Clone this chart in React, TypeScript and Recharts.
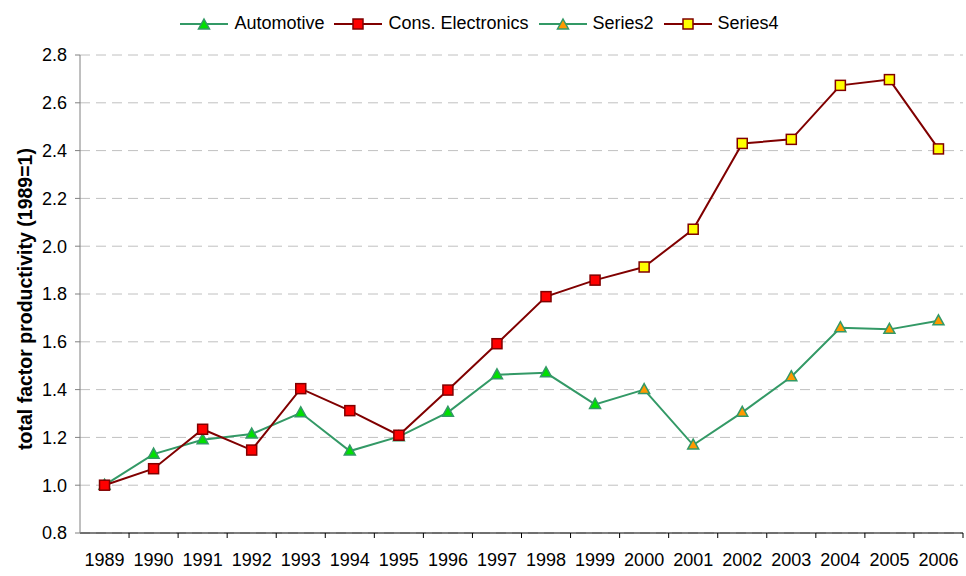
import React from 'react';
import { LineChart, Line, XAxis, YAxis, CartesianGrid, Legend } from 'recharts';

const years = ['1989', '1990', '1991', '1992', '1993', '1994', '1995', '1996', '1997', '1998', '1999', '2000', '2001', '2002', '2003', '2004', '2005', '2006'];
const automotive = [1.0, 1.13, 1.19, 1.214, 1.303, 1.143, 1.203, 1.305, 1.462, 1.47, 1.338, 1.4, 1.168, 1.305, 1.454, 1.659, 1.652, 1.688];
const consElectronics = [1.0, 1.069, 1.234, 1.147, 1.404, 1.312, 1.209, 1.398, 1.592, 1.789, 1.858, 1.913, 2.071, 2.43, 2.447, 2.673, 2.697, 2.407];
// from this year on the markers switch to the "Series2" / "Series4" style
const splitYear = '2000';
const yTicks = [0.8, 1.0, 1.2, 1.4, 1.6, 1.8, 2.0, 2.2, 2.4, 2.6, 2.8];

const GREEN = '#339966';
const DARK_RED = '#800000';
const FONT = '"Liberation Sans", Arial, sans-serif';

const WIDTH = 966;
const HEIGHT = 576;
const MARGIN = { top: 15, right: 3, bottom: 13, left: 0 };
const Y_AXIS_W = 80;
const BAND = (WIDTH - Y_AXIS_W - MARGIN.left - MARGIN.right) / years.length;

const splitIdx = years.indexOf(splitYear);

const data = years.map((year, i) => ({
  year,
  auto: i <= splitIdx ? automotive[i] : null,
  s2: i >= splitIdx ? automotive[i] : null,
  cons: i <= splitIdx ? consElectronics[i] : null,
  s4: i >= splitIdx ? consElectronics[i] : null,
}));

const Triangle = ({ cx, cy, fill }: { cx: number; cy: number; fill: string }) => (
  <polygon
    points={`${cx},${cy - 6} ${cx + 5.5},${cy + 4} ${cx - 5.5},${cy + 4}`}
    fill={fill}
    stroke={GREEN}
    strokeWidth={1.5}
  />
);

const Square = ({ cx, cy, fill }: { cx: number; cy: number; fill: string }) => (
  <rect x={cx - 5} y={cy - 5} width={10} height={10} fill={fill} stroke={DARK_RED} strokeWidth={1.5} />
);

const makeDot = (shape: 'tri' | 'sq', fill: string, hideIdx: number) => (props: any) => {
  const { cx, cy, index } = props;
  if (index === hideIdx || cx == null || cy == null || props.value == null) return <g key={`d-${index}`} />;
  return shape === 'tri' ? (
    <Triangle key={`d-${index}`} cx={cx} cy={cy} fill={fill} />
  ) : (
    <Square key={`d-${index}`} cx={cx} cy={cy} fill={fill} />
  );
};

const legendItems = [
  { name: 'Automotive', shape: 'tri', fill: '#00E000', color: GREEN },
  { name: 'Cons. Electronics', shape: 'sq', fill: '#FF0000', color: DARK_RED },
  { name: 'Series2', shape: 'tri', fill: '#FF9900', color: GREEN },
  { name: 'Series4', shape: 'sq', fill: '#FFFF00', color: DARK_RED },
];

const renderLegend = () => (
  <div
    style={{
      display: 'flex',
      justifyContent: 'center',
      alignItems: 'center',
      fontFamily: FONT,
      fontSize: 18,
      color: '#000',
      paddingRight: 4,
      marginTop: -2,
    }}
  >
    {legendItems.map((it, i) => (
      <div
        key={it.name}
        style={{ display: 'flex', alignItems: 'center', marginRight: i < legendItems.length - 1 ? 10 : 0 }}
      >
        <svg width={48} height={16} style={{ marginRight: 6 }}>
          <line x1={0} y1={8} x2={48} y2={8} stroke={it.color} strokeWidth={2} />
          {it.shape === 'tri' ? <Triangle cx={24} cy={9} fill={it.fill} /> : <Square cx={24} cy={8} fill={it.fill} />}
        </svg>
        <span>{it.name}</span>
      </div>
    ))}
  </div>
);

const XTick = (props: any) => {
  const { x, y, payload } = props;
  return (
    <g>
      <line x1={x + BAND / 2} y1={y} x2={x + BAND / 2} y2={y + 5} stroke="#000" strokeWidth={1} />
      <text x={x} y={y + 33} textAnchor="middle" fontFamily={FONT} fontSize={18} fill="#000">
        {payload.value}
      </text>
    </g>
  );
};

const YLabel = () => (
  <text
    x={25}
    y={299}
    transform="rotate(-90 25 299)"
    textAnchor="middle"
    dominantBaseline="central"
    fontFamily={FONT}
    fontSize={19.5}
    fontWeight="bold"
    fill="#000"
  >
    total factor productivity (1989=1)
  </text>
);

export default function App() {
  return (
    <div style={{ position: 'absolute', left: 0, top: 0, width: WIDTH, height: HEIGHT, background: '#fff' }}>
      <LineChart width={WIDTH} height={HEIGHT} data={data} margin={MARGIN}>
        <CartesianGrid vertical={false} stroke="#c0c0c0" strokeDasharray="10 6" />
        <XAxis
          dataKey="year"
          interval={0}
          height={30}
          padding={{ left: BAND / 2, right: BAND / 2 }}
          tickSize={0}
          tickMargin={0}
          tickLine={false}
          tick={<XTick />}
          axisLine={{ stroke: '#000', strokeWidth: 1 }}
        />
        <YAxis
          width={Y_AXIS_W}
          domain={[0.8, 2.8]}
          ticks={yTicks}
          interval={0}
          tickFormatter={(v: number) => v.toFixed(1)}
          tickSize={5}
          tickMargin={8}
          tickLine={{ stroke: '#808080' }}
          axisLine={{ stroke: '#808080', strokeWidth: 1 }}
          tick={{ fontFamily: FONT, fontSize: 18, fill: '#000' }}
          label={<YLabel />}
        />
        <Legend verticalAlign="top" height={40} content={renderLegend} />
        <Line
          dataKey="auto"
          name="Automotive"
          stroke={GREEN}
          strokeWidth={2}
          dot={makeDot('tri', '#00E000', splitIdx)}
          activeDot={false}
          isAnimationActive={false}
        />
        <Line
          dataKey="cons"
          name="Cons. Electronics"
          stroke={DARK_RED}
          strokeWidth={2}
          dot={makeDot('sq', '#FF0000', splitIdx)}
          activeDot={false}
          isAnimationActive={false}
        />
        <Line
          dataKey="s2"
          name="Series2"
          stroke={GREEN}
          strokeWidth={2}
          dot={makeDot('tri', '#FF9900', -1)}
          activeDot={false}
          isAnimationActive={false}
        />
        <Line
          dataKey="s4"
          name="Series4"
          stroke={DARK_RED}
          strokeWidth={2}
          dot={makeDot('sq', '#FFFF00', -1)}
          activeDot={false}
          isAnimationActive={false}
        />
      </LineChart>
    </div>
  );
}
